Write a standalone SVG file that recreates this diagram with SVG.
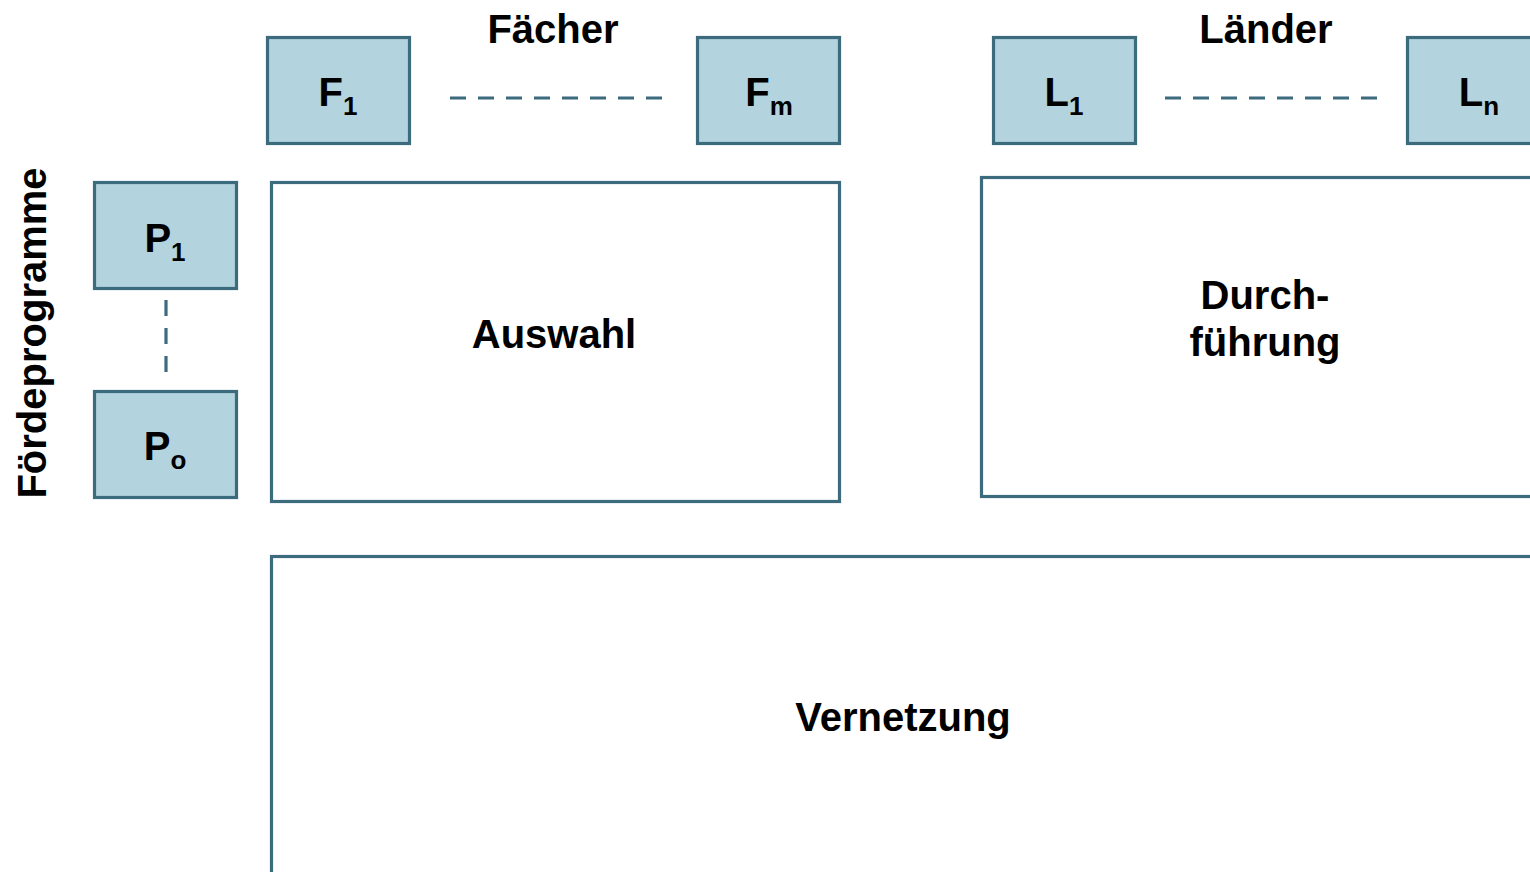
<svg xmlns="http://www.w3.org/2000/svg" width="1530" height="872" viewBox="0 0 1530 872">
<style>
.box{fill:#b3d3de;stroke:#3b6b7d;stroke-width:3.2}
.area{fill:#ffffff;stroke:#3b6b7d;stroke-width:3.2}
.dash{stroke:#3b6b7d;stroke-width:3.2;stroke-dasharray:16 12;fill:none}
text{font-family:"Liberation Sans",Arial,sans-serif;font-weight:bold;fill:#000;text-anchor:middle}
.t{font-size:40px}
.sub{font-size:26px}
</style>
<rect width="1530" height="872" fill="#ffffff"/>
<text class="t" x="553" y="43">Fächer</text>
<text class="t" x="1266" y="43">Länder</text>
<text class="t" transform="translate(46,333) rotate(-90)">Fördeprogramme</text>
<g id="connectors">
<line class="dash" x1="450" y1="98" x2="663" y2="98"/>
<line class="dash" x1="1165" y1="98" x2="1378" y2="98"/>
<line class="dash" x1="166" y1="300" x2="166" y2="372"/>
</g>
<g id="F1"><rect class="box" x="267.5" y="37.5" width="142" height="106"/><text class="t" x="338" y="106">F<tspan class="sub" dy="9">1</tspan></text></g>
<g id="Fm"><rect class="box" x="697.5" y="37.5" width="142" height="106"/><text class="t" x="769" y="106">F<tspan class="sub" dy="9">m</tspan></text></g>
<g id="L1"><rect class="box" x="993.5" y="37.5" width="142" height="106"/><text class="t" x="1064" y="106">L<tspan class="sub" dy="9">1</tspan></text></g>
<g id="Ln"><rect class="box" x="1407.5" y="37.5" width="142" height="106"/><text class="t" x="1479" y="106">L<tspan class="sub" dy="9">n</tspan></text></g>
<g id="P1"><rect class="box" x="94.5" y="182.5" width="142" height="106"/><text class="t" x="165" y="252">P<tspan class="sub" dy="9">1</tspan></text></g>
<g id="Po"><rect class="box" x="94.5" y="391.5" width="142" height="106"/><text class="t" x="165" y="460">P<tspan class="sub" dy="9">o</tspan></text></g>
<g id="Auswahl"><rect class="area" x="271.5" y="182.5" width="568" height="319"/><text class="t" x="554" y="348">Auswahl</text></g>
<g id="Durchfuehrung"><rect class="area" x="981.5" y="177.5" width="580" height="319"/><text class="t" x="1265" y="309">Durch-</text><text class="t" x="1265" y="356">führung</text></g>
<g id="Vernetzung"><rect class="area" x="271.5" y="556.5" width="1300" height="340"/><text class="t" x="903" y="731">Vernetzung</text></g>
</svg>
